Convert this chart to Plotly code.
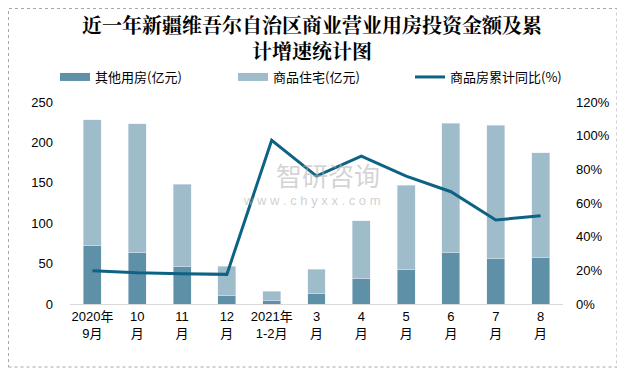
import plotly.graph_objects as go

categories = ["2020年<br>9月", "10<br>月", "11<br>月", "12<br>月", "2021年<br>1-2月",
              "3<br>月", "4<br>月", "5<br>月", "6<br>月", "7<br>月", "8<br>月"]
other_use = [73, 64, 47, 11, 4, 12.5, 32, 43, 64, 56, 58]
residential = [155, 159, 101, 36, 12, 30.5, 71, 104, 160, 165, 129]
cum_growth = [0.198, 0.186, 0.180, 0.176, 0.973, 0.760, 0.878, 0.760, 0.667, 0.499, 0.524]

DARK = "#5E90A8"
LIGHT = "#9EBCCA"
LINE = "#0E6283"
FONT = "Liberation Sans, Noto Sans CJK SC, sans-serif"

W, H = 617, 363

fig = go.Figure()
fig.add_trace(go.Bar(x=categories, y=other_use, name="其他用房(亿元)", marker_color=DARK, showlegend=False))
fig.add_trace(go.Bar(x=categories, y=residential, name="商品住宅(亿元)", marker_color=LIGHT, showlegend=False))
fig.add_trace(go.Scatter(x=categories, y=cum_growth, name="商品房累计同比(%)", mode="lines",
                         line=dict(color=LINE, width=3), yaxis="y2", legend="legend3"))
# legend-only swatches (wide rectangles like the original)
fig.add_trace(go.Scatter(x=[None], y=[None], name="其他用房(亿元)", mode="lines",
                         line=dict(color=DARK, width=8), legend="legend", hoverinfo="skip"))
fig.add_trace(go.Scatter(x=[None], y=[None], name="商品住宅(亿元)", mode="lines",
                         line=dict(color=LIGHT, width=8), legend="legend2", hoverinfo="skip"))

leg_common = dict(orientation="h", xref="container", yref="container", xanchor="left",
                  y=1 - 69 / H, yanchor="middle",
                  font=dict(size=13, family="Noto Sans CJK SC, sans-serif"),
                  bgcolor="rgba(0,0,0,0)")

fig.update_layout(
    width=W, height=H,
    margin=dict(l=62, r=62, t=94, b=67, autoexpand=False),
    barmode="stack", bargap=0.6,
    plot_bgcolor="white", paper_bgcolor="white",
    font=dict(family=FONT, size=13, color="#000000"),
    title=dict(text="近一年新疆维吾尔自治区商业营业用房投资金额及累<br>计增速统计图",
               x=304 / W, xanchor="center", yref="container", y=1 - 25 / H, yanchor="middle",
               font=dict(family="Noto Serif CJK SC, Noto Sans CJK SC, serif", size=20, color="#000000", weight="bold")),
    showlegend=True,
    legend=dict(x=47 / W, **leg_common),
    legend2=dict(x=225 / W, **leg_common),
    legend3=dict(x=402 / W, **leg_common),
    xaxis=dict(showline=True, linecolor="#D9D9D9", linewidth=1, ticks="", showgrid=False,
               tickfont=dict(size=13)),
    yaxis=dict(range=[0, 250], dtick=50, showgrid=False, zeroline=False, showline=False,
               ticks="", tickfont=dict(size=13), ticklabelstandoff=16),
    yaxis2=dict(range=[0, 1.2], dtick=0.2, tickformat=".0%", overlaying="y", side="right",
                showgrid=False, zeroline=False, showline=False, ticks="", tickfont=dict(size=13),
                ticklabelstandoff=12),
    shapes=[dict(type="rect", xref="paper", yref="paper", x0=-0.1247, x1=1.1095, y0=-0.312, y1=1.4629,
                 line=dict(color="#A6A6A6", width=1, dash="dot"), layer="below")],
    annotations=[
        dict(text="智研咨询", xref="paper", yref="paper", x=0.523, y=0.64, showarrow=False,
             font=dict(size=26, color="rgba(175,175,175,0.55)", family="Noto Sans CJK SC")),
        dict(text="w w w . c h y x x . c o m", xref="paper", yref="paper", x=0.491, y=0.51, showarrow=False,
             font=dict(size=13, color="rgba(175,175,175,0.6)")),
    ],
)

fig.write_html("out.html")
